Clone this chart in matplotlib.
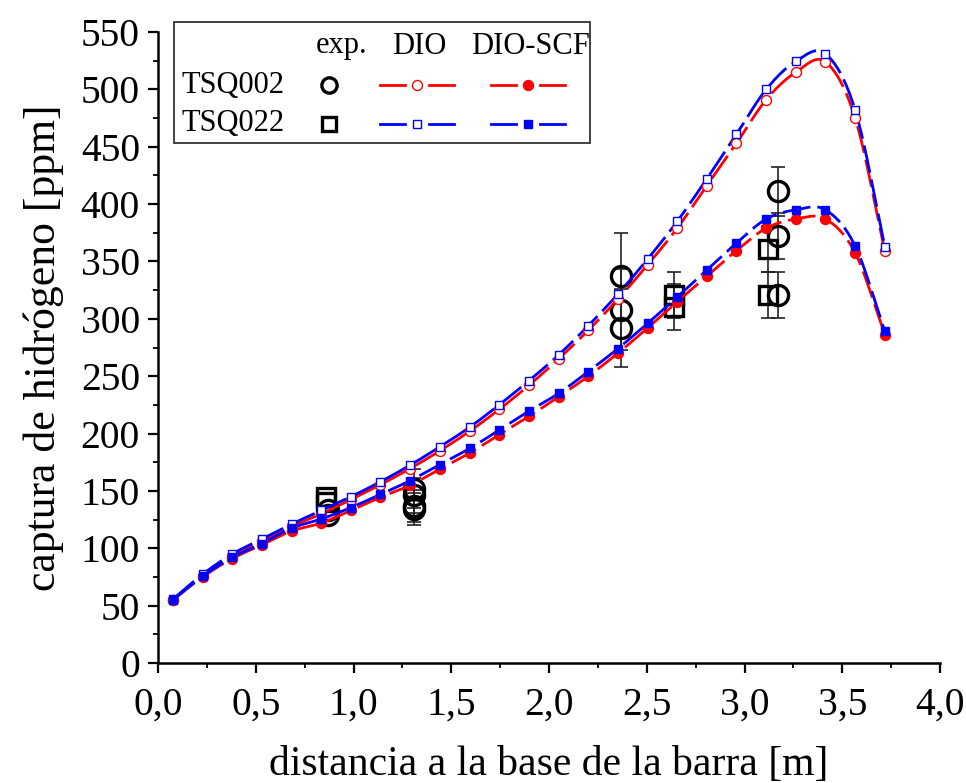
import numpy as np
import matplotlib
matplotlib.use("Agg")
import matplotlib.pyplot as plt
from matplotlib.ticker import MultipleLocator, FuncFormatter
from matplotlib.lines import Line2D
from matplotlib.patches import Rectangle

plt.rcParams['font.family'] = ['Liberation Serif', 'DejaVu Serif']

# model positions along the bar [m]
x_model = [0.076, 0.228, 0.380, 0.531, 0.683, 0.835, 0.987, 1.138, 1.290, 1.442,
           1.594, 1.745, 1.897, 2.049, 2.201, 2.352, 2.504, 2.656, 2.807, 2.959,
           3.111, 3.263, 3.414, 3.566, 3.718]

# hydrogen uptake [ppm]
dio_002 = [55, 76, 93, 106, 119, 130, 142.5, 155.5, 169.5, 185, 202, 221, 242, 265,
           290, 317, 347, 379, 416, 453, 491, 515, 524, 475, 359]
dio_022 = [55.5, 77.3, 95, 108, 121, 133, 145, 158, 172.5, 188.5, 205.5, 225, 246,
           268.5, 294, 321.5, 352, 385, 422, 461, 500, 524.5, 531, 482, 363]
scf_002 = [55, 75, 91, 103, 115, 122, 133, 144.5, 155, 169, 183, 199, 215, 232, 250,
           270, 292, 315, 337, 359.5, 379, 387, 387, 357.5, 286]
scf_022 = [55, 75.5, 92, 104, 117.5, 125.5, 135.5, 147, 159, 173, 187, 203, 219.5,
           235, 254, 274, 296, 319, 342.5, 366, 387, 395, 395, 363.5, 289]

# experimental values
x_exp_002 = [0.87, 0.87, 1.31, 1.31, 1.31, 1.31, 2.37, 2.37, 2.37, 3.17, 3.17, 3.17]
y_exp_002 = [133, 129, 152, 146, 137, 134, 337, 308, 292, 411, 372, 321]
err_002 = [0, 0, 17, 15, 14, 14, 38, 35, 34, 21, 20, 20]

x_exp_022 = [0.86, 0.86, 2.64, 2.64, 3.12, 3.12]
y_exp_022 = [145, 140, 321, 310, 361, 321]
err_022 = [0, 0, 20, 20, 20, 20]

RED = '#ff0000'
BLUE = '#0000ff'


def smooth(x, y, n=20):
    # Catmull-Rom curve through the points, only used to draw the line
    x = np.asarray(x, float)
    y = np.asarray(y, float)
    px = np.concatenate([[2 * x[0] - x[1]], x, [2 * x[-1] - x[-2]]])
    py = np.concatenate([[2 * y[0] - y[1]], y, [2 * y[-1] - y[-2]]])
    t = np.linspace(0, 1, n, endpoint=False)
    xs, ys = [], []
    for i in range(1, len(px) - 2):
        for p, out in ((px, xs), (py, ys)):
            p0, p1, p2, p3 = p[i - 1], p[i], p[i + 1], p[i + 2]
            out.append(0.5 * ((2 * p1) + (-p0 + p2) * t +
                              (2 * p0 - 5 * p1 + 4 * p2 - p3) * t ** 2 +
                              (-p0 + 3 * p1 - 3 * p2 + p3) * t ** 3))
    xs = np.concatenate(xs + [[x[-1]]])
    ys = np.concatenate(ys + [[y[-1]]])
    return xs, ys


fig = plt.figure(figsize=(9.66, 7.83), dpi=100)
ax = fig.add_axes([158 / 966, 120 / 783, 782 / 966, 631 / 783])

# experimental points with error bars
for xe, ye, ee, mk, ms in ((x_exp_002, y_exp_002, err_002, 'o', 14.5),
                           (x_exp_022, y_exp_022, err_022, 's', 12.5)):
    xe, ye, ee = np.array(xe), np.array(ye), np.array(ee)
    m = ee > 0
    ax.errorbar(xe[m], ye[m], yerr=ee[m], fmt='none', ecolor='#222222',
                elinewidth=1.2, capsize=5, capthick=1.2, zorder=2)
    ax.plot(xe, ye, linestyle='none', marker=mk, ms=ms, mfc='none',
            mec='black', mew=2.4, zorder=3)

# model curves
series = [(dio_002, RED, 'o', 'white', 7.2),
          (scf_002, RED, 'o', RED, 7.2),
          (dio_022, BLUE, 's', 'white', 6.3),
          (scf_022, BLUE, 's', BLUE, 6.3)]
for ys, col, mk, fc, ms in series:
    sx, sy = smooth(x_model, ys)
    ax.plot(sx, sy, color=col, lw=2.0, dashes=(10, 2.5), zorder=4)
    ax.plot(x_model, ys, linestyle='none', marker=mk, ms=ms, mfc=fc, mec=col,
            mew=1.0, zorder=5)

ax.set_xlim(0, 4.0)
ax.set_ylim(0, 550)
ax.xaxis.set_major_locator(MultipleLocator(0.5))
ax.xaxis.set_minor_locator(MultipleLocator(0.25))
ax.yaxis.set_major_locator(MultipleLocator(50))
ax.yaxis.set_minor_locator(MultipleLocator(25))
ax.xaxis.set_major_formatter(FuncFormatter(lambda v, p: f'{v:.1f}'.replace('.', ',')))
for side in ('top', 'right'):
    ax.spines[side].set_visible(False)
for side in ('left', 'bottom'):
    ax.spines[side].set_linewidth(1.8)
ax.tick_params(which='major', direction='out', length=7, width=1.6, labelsize=28.5)
ax.tick_params(which='minor', direction='out', length=3.5, width=1.3)
ax.tick_params(axis='x', which='major', pad=10)
ax.tick_params(axis='y', which='major', pad=6)
ax.set_xlabel('distancia a la base de la barra [m]', fontsize=30, labelpad=16)
ax.set_ylabel('captura de hidrógeno [ppm]', fontsize=31.5, labelpad=12)

# legend table drawn in figure pixels
def fx(px):
    return px / 966


def fy(py):
    return 1 - py / 783


tf = fig.transFigure
fig.add_artist(Rectangle((fx(174), fy(143)), fx(590) - fx(174), fy(22) - fy(143),
                         transform=tf, fill=False, ec='#333333', lw=1.3))
for txt, cx in (('exp.', 342), ('DIO', 419), ('DIO-SCF', 530)):
    fig.text(fx(cx), fy(46), txt, fontsize=22, ha='center', va='center')
for txt, cy in (('TSQ002', 85), ('TSQ022', 124)):
    fig.text(fx(181), fy(cy), txt, fontsize=22, ha='left', va='center')

rows = [(85, 'o', RED, 7.2, 11), (124, 's', BLUE, 6.3, 10)]
for cy, mk, col, ms, ems in rows:
    fig.add_artist(Line2D([fx(329)], [fy(cy)], transform=tf, marker=mk, ms=ems,
                          mfc='none', mec='black', mew=2.4, linestyle='none'))
    for cx, fc in ((417, 'white'), (528, col)):
        for x0, x1 in ((cx - 37, cx - 12), (cx + 12, cx + 37)):
            fig.add_artist(Line2D([fx(x0), fx(x1)], [fy(cy), fy(cy)], transform=tf,
                                  color=col, lw=2.0))
        fig.add_artist(Line2D([fx(cx)], [fy(cy)], transform=tf, marker=mk, ms=ms,
                              mfc=fc, mec=col, mew=1.0, linestyle='none'))

fig.savefig('out.png', dpi=100)
